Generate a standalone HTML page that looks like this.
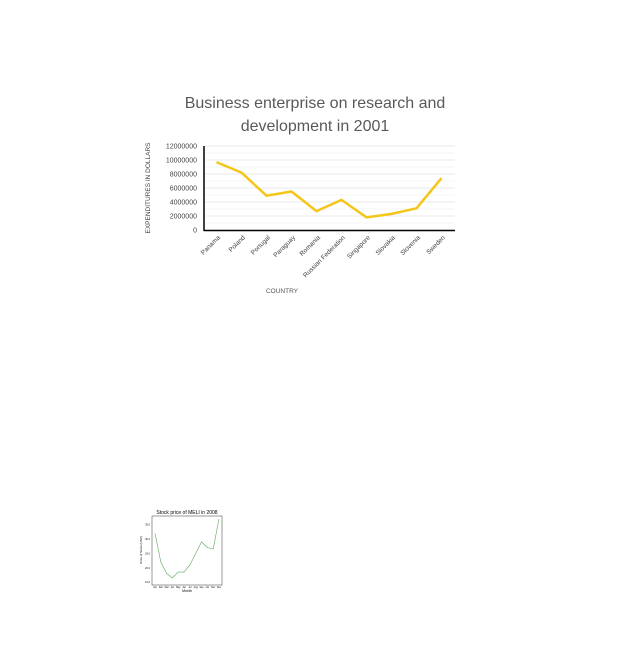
<!DOCTYPE html>
<html><head><meta charset="utf-8"><style>
body{margin:0;background:#fff;width:640px;height:640px;overflow:hidden;font-family:"Liberation Sans",sans-serif}
</style></head><body>
<svg width="640" height="640" xmlns="http://www.w3.org/2000/svg">
<g id="main">
<text x="315" y="108" text-anchor="middle" font-size="16" fill="#595959">Business enterprise on research and</text>
<text x="315" y="131" text-anchor="middle" font-size="16" fill="#595959">development in 2001</text>
<text transform="translate(150,188) rotate(-90)" text-anchor="middle" font-size="6.5" fill="#444">EXPENDITURES IN DOLLARS</text>
<text x="282" y="293" text-anchor="middle" font-size="6.5" fill="#555">COUNTRY</text>
<g id="grid"></g><g id="yt"></g><g id="xt"></g>
<line x1="204" y1="146" x2="204" y2="231" stroke="#000" stroke-width="1.5"/>
<line x1="204" y1="230.5" x2="455" y2="230.5" stroke="#000" stroke-width="1.5"/>
<path id="line" fill="none" stroke="#f5c518" stroke-width="2.5" stroke-linejoin="round"/>
</g>
<g id="small">
<text x="187" y="514" text-anchor="middle" font-size="5" fill="#000">Stock price of MELI in 2008</text>
<rect x="152" y="516" width="70" height="69" fill="none" stroke="#333" stroke-width="0.5"/>
<text transform="translate(142,550) rotate(-90)" text-anchor="middle" font-size="3">Price of Stock (USD)</text>
<text x="187" y="592" text-anchor="middle" font-size="3.5">Month</text>
<g id="syt"></g><g id="sxt"></g>
<path id="sline" fill="none" stroke="#5aa55a" stroke-width="0.6"/>
</g>
</svg>
<script>
const countries=["Panama","Poland","Portugal","Paraguay","Romania","Russian Federation","Singapore","Slovakia","Slovenia","Sweden"];
const expenditures=[9700000,8200000,4900000,5500000,2700000,4300000,1800000,2300000,3100000,7400000];
const yTicks=[0,2000000,4000000,6000000,8000000,10000000,12000000];
const months=["Jan","Feb","Mar","Apr","May","Jun","Jul","Aug","Sep","Oct","Nov","Dec"];
const prices=[32,22,18,16.5,18.5,18.5,21,25,29,27,26.5,37];
const priceTicks=[15,20,25,30,35];
const NS="http://www.w3.org/2000/svg";
function mk(t,a,p,txt){const e=document.createElementNS(NS,t);for(const k in a)e.setAttribute(k,a[k]);if(txt!==undefined)e.textContent=txt;p.appendChild(e);return e;}
const yS=v=>230-v/12000000*84;
const xS=i=>216.5+i*25;
const grid=document.getElementById('grid');
for(let v=1000000;v<=12000000;v+=1000000){const l=mk('line',{x1:204,x2:455,y1:yS(v),y2:yS(v),stroke:v%2000000?'#ececec':'#d6d6d6','stroke-width':0.6},grid);

}
const yt=document.getElementById('yt');
yTicks.forEach(v=>{const t=mk('text',{x:197,y:yS(v)+2.5,'text-anchor':'end','font-size':7,fill:'#444'},yt,String(v));

});
const xt=document.getElementById('xt');
countries.forEach((c,i)=>{const t=mk('text',{transform:`translate(${xS(i)+4},${238}) rotate(-45)`,'text-anchor':'end','font-size':6.5,fill:'#444'},xt,c);

});
document.getElementById('line').setAttribute('d',expenditures.map((v,i)=>(i?'L':'M')+xS(i)+','+yS(v)).join(''));
const sx=i=>155+i*(64/11);
const sy=v=>585-(v-14)/(38-14)*69;
const syt=document.getElementById('syt');
priceTicks.forEach(v=>{const t=mk('text',{x:150,y:sy(v)+1,'text-anchor':'end','font-size':2.5},syt,v.toFixed(1));

});
const sxt=document.getElementById('sxt');
months.forEach((m,i)=>{const t=mk('text',{x:sx(i),y:588,'text-anchor':'middle','font-size':2.3},sxt,m);

});
document.getElementById('sline').setAttribute('d',prices.map((v,i)=>(i?'L':'M')+sx(i)+','+sy(v)).join(''));
</script>
</body></html>
